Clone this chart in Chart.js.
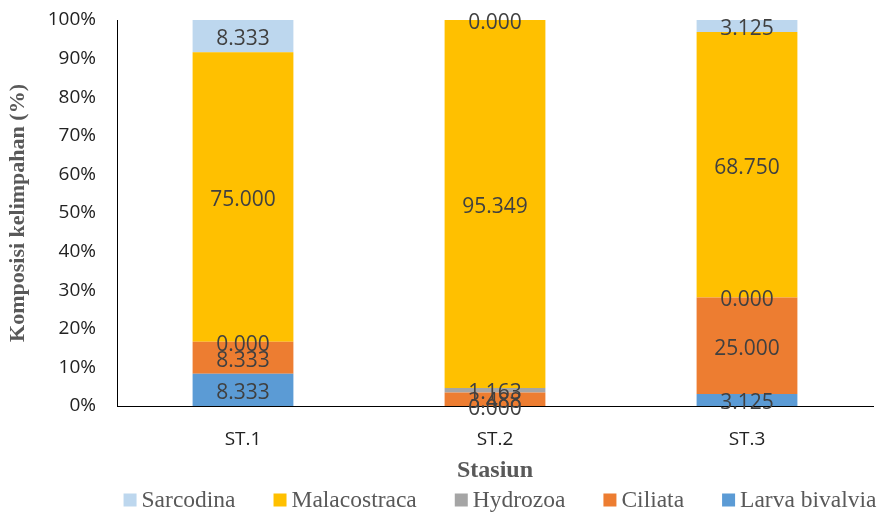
<!DOCTYPE html>
<html>
<head>
<meta charset="utf-8">
<script src="https://cdn.jsdelivr.net/npm/chart.js@4.4.1/dist/chart.umd.min.js"></script>
<style>
  html, body { margin: 0; padding: 0; background: #fff; }
  #wrap { width: 886px; height: 513px; }
</style>
</head>
<body>
<div id="wrap"><canvas id="komposisi"></canvas></div>
<script>
// Komposisi kelimpahan per stasiun (%)
const stations = ["ST.1", "ST.2", "ST.3"];
const larvaBivalvia = [8.333, 0.000, 3.125];
const ciliata = [8.333, 3.488, 25.000];
const hydrozoa = [0.000, 1.163, 0.000];
const malacostraca = [75.000, 95.349, 68.750];
const sarcodina = [8.333, 0.000, 3.125];

const seriesNames = ["Larva bivalvia", "Ciliata", "Hydrozoa", "Malacostraca", "Sarcodina"];
const seriesValues = [larvaBivalvia, ciliata, hydrozoa, malacostraca, sarcodina];
const seriesColors = ["#5B9BD5", "#ED7D31", "#A5A5A5", "#FFC000", "#BDD7EE"];

const tickFont = { family: "'Open Sans', sans-serif", size: 19 };
const serif = "'Liberation Serif', 'Times New Roman', serif";

// value labels in the middle of every segment
const segmentLabels = {
    id: "segmentLabels",
    afterDatasetsDraw(chart) {
        const ctx = chart.ctx;
        ctx.save();
        ctx.font = "21px 'Open Sans', sans-serif";
        ctx.fillStyle = "#404040";
        ctx.textAlign = "center";
        ctx.textBaseline = "middle";
        chart.data.datasets.forEach((ds, i) => {
            chart.getDatasetMeta(i).data.forEach((bar, j) => {
                const y = (bar.y + bar.base) / 2 + 3;
                ctx.fillText(ds.data[j].toFixed(3), bar.x, y);
            });
        });
        ctx.restore();
    }
};

// legend row under the axis title, top series first
const legendRow = {
    id: "legendRow",
    afterDraw(chart) {
        const ctx = chart.ctx;
        const box = 13, gapText = 5, gapItem = 38;
        const items = chart.data.datasets.slice().reverse();
        ctx.save();
        ctx.font = "23.5px " + serif;
        ctx.textBaseline = "middle";
        let total = 0;
        items.forEach((ds, i) => {
            total += box + gapText + ctx.measureText(ds.label).width;
            if (i < items.length - 1) total += gapItem;
        });
        const area = chart.chartArea;
        let x = (area.left + area.right) / 2 - total / 2 + 5;
        const y = 500;
        items.forEach(ds => {
            ctx.fillStyle = ds.backgroundColor;
            ctx.fillRect(x, y - box / 2, box, box);
            x += box + gapText;
            ctx.fillStyle = "#595959";
            ctx.fillText(ds.label, x, y + 1);
            x += ctx.measureText(ds.label).width + gapItem;
        });
        ctx.restore();
    }
};

new Chart(document.getElementById("komposisi"), {
    type: "bar",
    plugins: [segmentLabels, legendRow],
    data: {
        labels: stations,
        datasets: seriesNames.map((name, i) => ({
            label: name,
            data: seriesValues[i],
            backgroundColor: seriesColors[i],
            borderWidth: 0,
            barPercentage: 0.4,
            categoryPercentage: 1
        }))
    },
    options: {
        responsive: true,
        maintainAspectRatio: false,
        animation: false,
        layout: { padding: { top: 20, right: 13, bottom: 28, left: 0 } },
        plugins: {
            legend: { display: false },
            tooltip: { enabled: false }
        },
        scales: {
            x: {
                stacked: true,
                grid: { display: false, drawTicks: false },
                border: { display: true, color: "#000", width: 1 },
                ticks: { font: tickFont, color: "#222", padding: 22 },
                title: {
                    display: true,
                    text: "Stasiun",
                    color: "#595959",
                    font: { family: serif, size: 24, weight: "bold" },
                    padding: { top: 0, bottom: 0 }
                },
                afterFit(scale) { scale.height = 79; }
            },
            y: {
                stacked: true,
                min: 0,
                max: 100,
                grid: { display: false, drawTicks: false },
                border: { display: true, color: "#000", width: 1 },
                ticks: {
                    stepSize: 10,
                    font: tickFont,
                    color: "#222",
                    padding: 21,
                    callback: v => v + "%"
                },
                title: {
                    display: true,
                    text: "Komposisi kelimpahan (%)",
                    color: "#595959",
                    font: { family: serif, size: 22, weight: "bold" },
                    padding: { top: 5, bottom: 0 }
                },
                afterFit(scale) {
                    scale.width = 117;
                    scale.paddingTop = 0;
                    scale.paddingBottom = 0;
                }
            }
        }
    }
});
</script>
</body>
</html>
